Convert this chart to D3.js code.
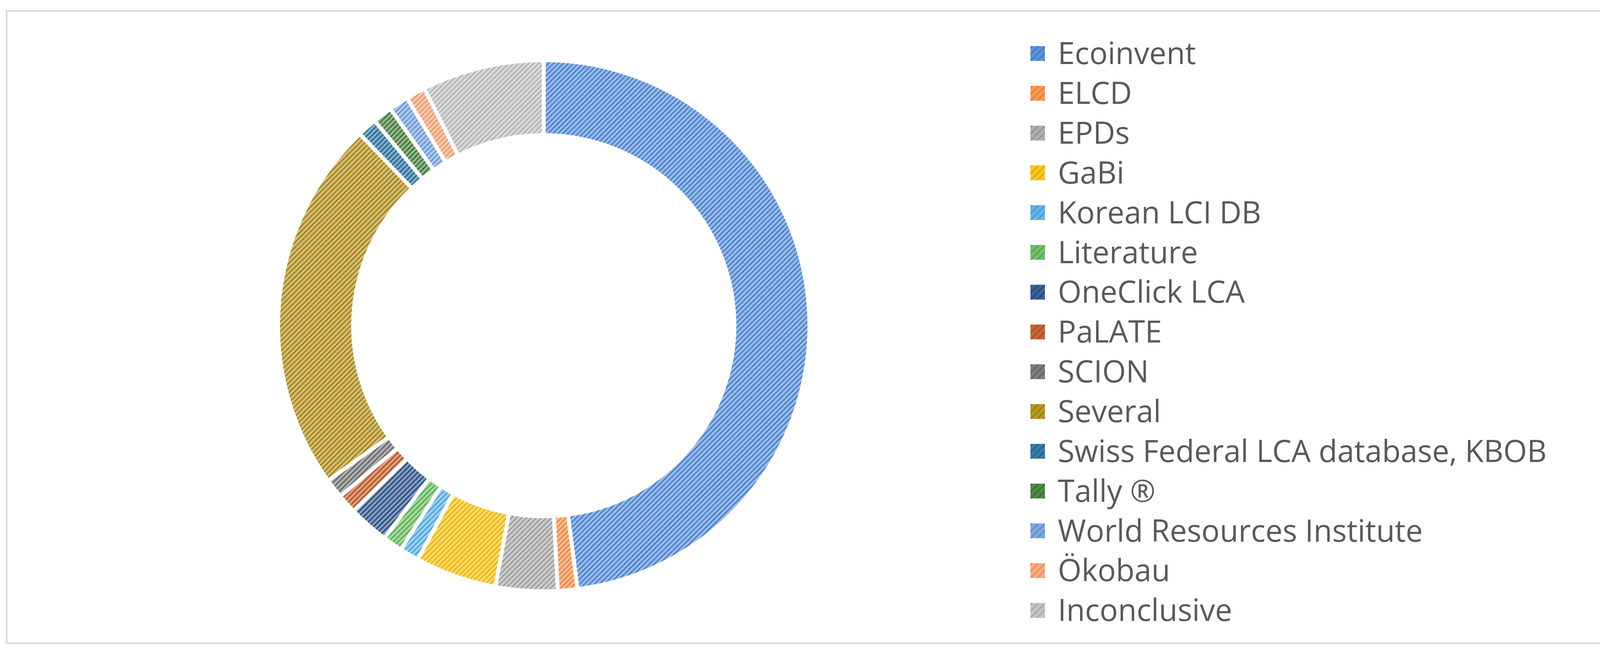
<!DOCTYPE html>
<html><head><meta charset="utf-8">
<script src="https://cdn.jsdelivr.net/npm/d3@7/dist/d3.min.js"></script>
<style>html,body{margin:0;padding:0;background:#fff}</style></head>
<body><svg id="c" width="4286" height="1667"></svg>
<script>
const categories = ["Ecoinvent","ELCD","EPDs","GaBi","Korean LCI DB","Literature","OneClick LCA","PaLATE","SCION","Several","Swiss Federal LCA database, KBOB","Tally ®","World Resources Institute","Ökobau","Inconclusive"];
const values = [48.5,1.2,3.8,5.0,1.2,1.2,2.5,1.2,1.2,23.0,1.2,1.2,1.2,1.2,7.5];
const colors = ["#4A86D8","#FF8C42","#A5A5A5","#FFC000","#4FAEE8","#5DBB55","#264F8A","#C0561E","#6E6E6E","#B08A10","#1F6E9E","#3E7B34","#6E9FE0","#FFA070","#BDBDBD"];

const svg = d3.select("#c");
svg.append("rect").attr("x",17).attr("y",28).attr("width",4286-34).attr("height",1667-48)
  .attr("fill","#fff").attr("stroke","#d9d9d9").attr("stroke-width",4);

const defs = svg.append("defs");
colors.forEach((c,i)=>{
  const p = defs.append("pattern").attr("id","p"+i).attr("patternUnits","userSpaceOnUse")
    .attr("width",9).attr("height",9).attr("patternTransform","rotate(45)");
  p.append("rect").attr("width",9).attr("height",9).attr("fill",d3.interpolateRgb(c,"#fff")(0.45));
  p.append("rect").attr("width",3.5).attr("height",9).attr("fill",d3.color(c).darker(0.2));
  const q = defs.append("pattern").attr("id","q"+i).attr("patternUnits","userSpaceOnUse")
    .attr("width",12).attr("height",12).attr("patternTransform","rotate(45)");
  q.append("rect").attr("width",12).attr("height",12).attr("fill",d3.interpolateRgb(c,"#fff")(0.1));
  q.append("rect").attr("width",3).attr("height",12).attr("fill",d3.color(c).darker(0.4));
});

const cx=1392, cy=834, R=680, r0=488;
const pie = d3.pie().sort(null).value(d=>d)(values);
const arc = d3.arc().innerRadius(r0).outerRadius(R);
const g = svg.append("g").attr("transform",`translate(${cx},${cy})`);
g.selectAll("path").data(pie).join("path").attr("d",arc)
  .attr("fill",(d,i)=>`url(#p${i})`).attr("stroke","#fff").attr("stroke-width",10).attr("stroke-linejoin","miter");

const y = d3.scalePoint().domain(categories).range([137,1563]);
const lg = svg.append("g");
const row = lg.selectAll("g").data(categories).join("g").attr("transform",d=>`translate(2638,${y(d)})`);
row.append("rect").attr("x",0).attr("y",-19).attr("width",37).attr("height",38).attr("fill",(d,i)=>`url(#q${i})`);
row.append("text").attr("x",70).attr("y",0).attr("dy","0.35em").attr("fill","#595959")
  .attr("font-family","'Open Sans', sans-serif").attr("font-size",78).text(d=>d);
</script></body></html>
